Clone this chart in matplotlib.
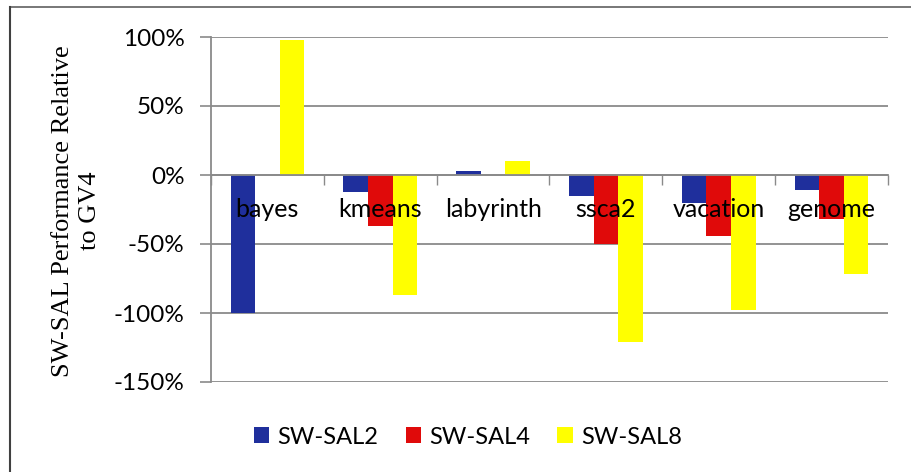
import matplotlib
matplotlib.use("Agg")
import matplotlib.pyplot as plt
import numpy as np
from matplotlib.ticker import FuncFormatter, FixedLocator
from matplotlib.lines import Line2D

# Benchmarks and relative performance (%) of each SW-SAL configuration vs. GV4
categories = ["bayes", "kmeans", "labyrinth", "ssca2", "vacation", "genome"]
series_names = ["SW-SAL2", "SW-SAL4", "SW-SAL8"]
sw_sal2 = [-100, -12, 3, -15, -20, -11]
sw_sal4 = [0, -37, 0, -50, -44, -32]
sw_sal8 = [98, -87, 10, -121, -98, -72]
y_ticks = [100, 50, 0, -50, -100, -150]

colors = ["#1f2f9c", "#e00a0a", "#ffff00"]
sans = ["Lato", "DejaVu Sans"]

fig = plt.figure(figsize=(9.12, 4.72), dpi=100)
ax = fig.add_axes([211 / 912, 1 - 382 / 472, (888 - 211) / 912, (382 - 37) / 472])

n = len(categories)
centers = np.arange(n) + 0.5
bar_w = 0.218
for k, (vals, name) in enumerate(zip([sw_sal2, sw_sal4, sw_sal8], series_names)):
    ax.bar(centers + (k - 1) * bar_w, vals, width=bar_w, color=colors[k],
           label=name, zorder=2, linewidth=0)

ax.set_xlim(0, n)
ax.set_ylim(-150, 100)
ax.set_yticks(y_ticks)
ax.yaxis.set_major_formatter(FuncFormatter(lambda v, p: f"{int(v)}%"))
ax.yaxis.grid(True, color="#8a8a8a", linewidth=1.3, zorder=0)
ax.tick_params(axis="y", direction="out", length=8, width=1.2, color="#8a8a8a",
               labelsize=17.5, pad=11)
for lab in ax.get_yticklabels():
    lab.set_fontfamily(sans)

# Category axis drawn along the zero line with boundary tick marks
ax.spines["bottom"].set_position(("data", 0))
ax.spines["bottom"].set_color("#8a8a8a")
ax.spines["bottom"].set_linewidth(1.3)
ax.spines["bottom"].set_zorder(3)
ax.xaxis.set_major_locator(FixedLocator(np.arange(n + 1)))
ax.tick_params(axis="x", direction="out", length=7, width=1.0, color="#8a8a8a",
               labelbottom=False)
ax.spines["left"].set_color("#8a8a8a")
ax.spines["left"].set_linewidth(1.3)
ax.spines["top"].set_visible(False)
ax.spines["right"].set_visible(False)

for c, name in zip(centers, categories):
    ax.text(c, -25, name, ha="center", va="center", fontsize=18,
            family=sans, color="black", zorder=5)

ax.set_ylabel("SW-SAL Performance Relative\nto GV4", family="Liberation Serif",
              fontsize=19, linespacing=1.3)
ax.yaxis.set_label_coords(-0.163, 0.495)

leg = fig.legend(loc="center", bbox_to_anchor=(0.513, 1 - 437 / 472), ncol=3,
                 frameon=False, handlelength=0.65, handleheight=0.65,
                 handletextpad=0.35, columnspacing=1.15,
                 prop={"family": sans, "size": 17})

# Chart frame (top and left edges)
fig.add_artist(Line2D([10 / 912, 1.0], [1 - 7 / 472, 1 - 7 / 472],
                      transform=fig.transFigure, color="#606060", linewidth=1.2))
fig.add_artist(Line2D([10 / 912, 10 / 912], [0, 1 - 7 / 472],
                      transform=fig.transFigure, color="#404040", linewidth=1.5))

fig.savefig("out.png", dpi=100)
